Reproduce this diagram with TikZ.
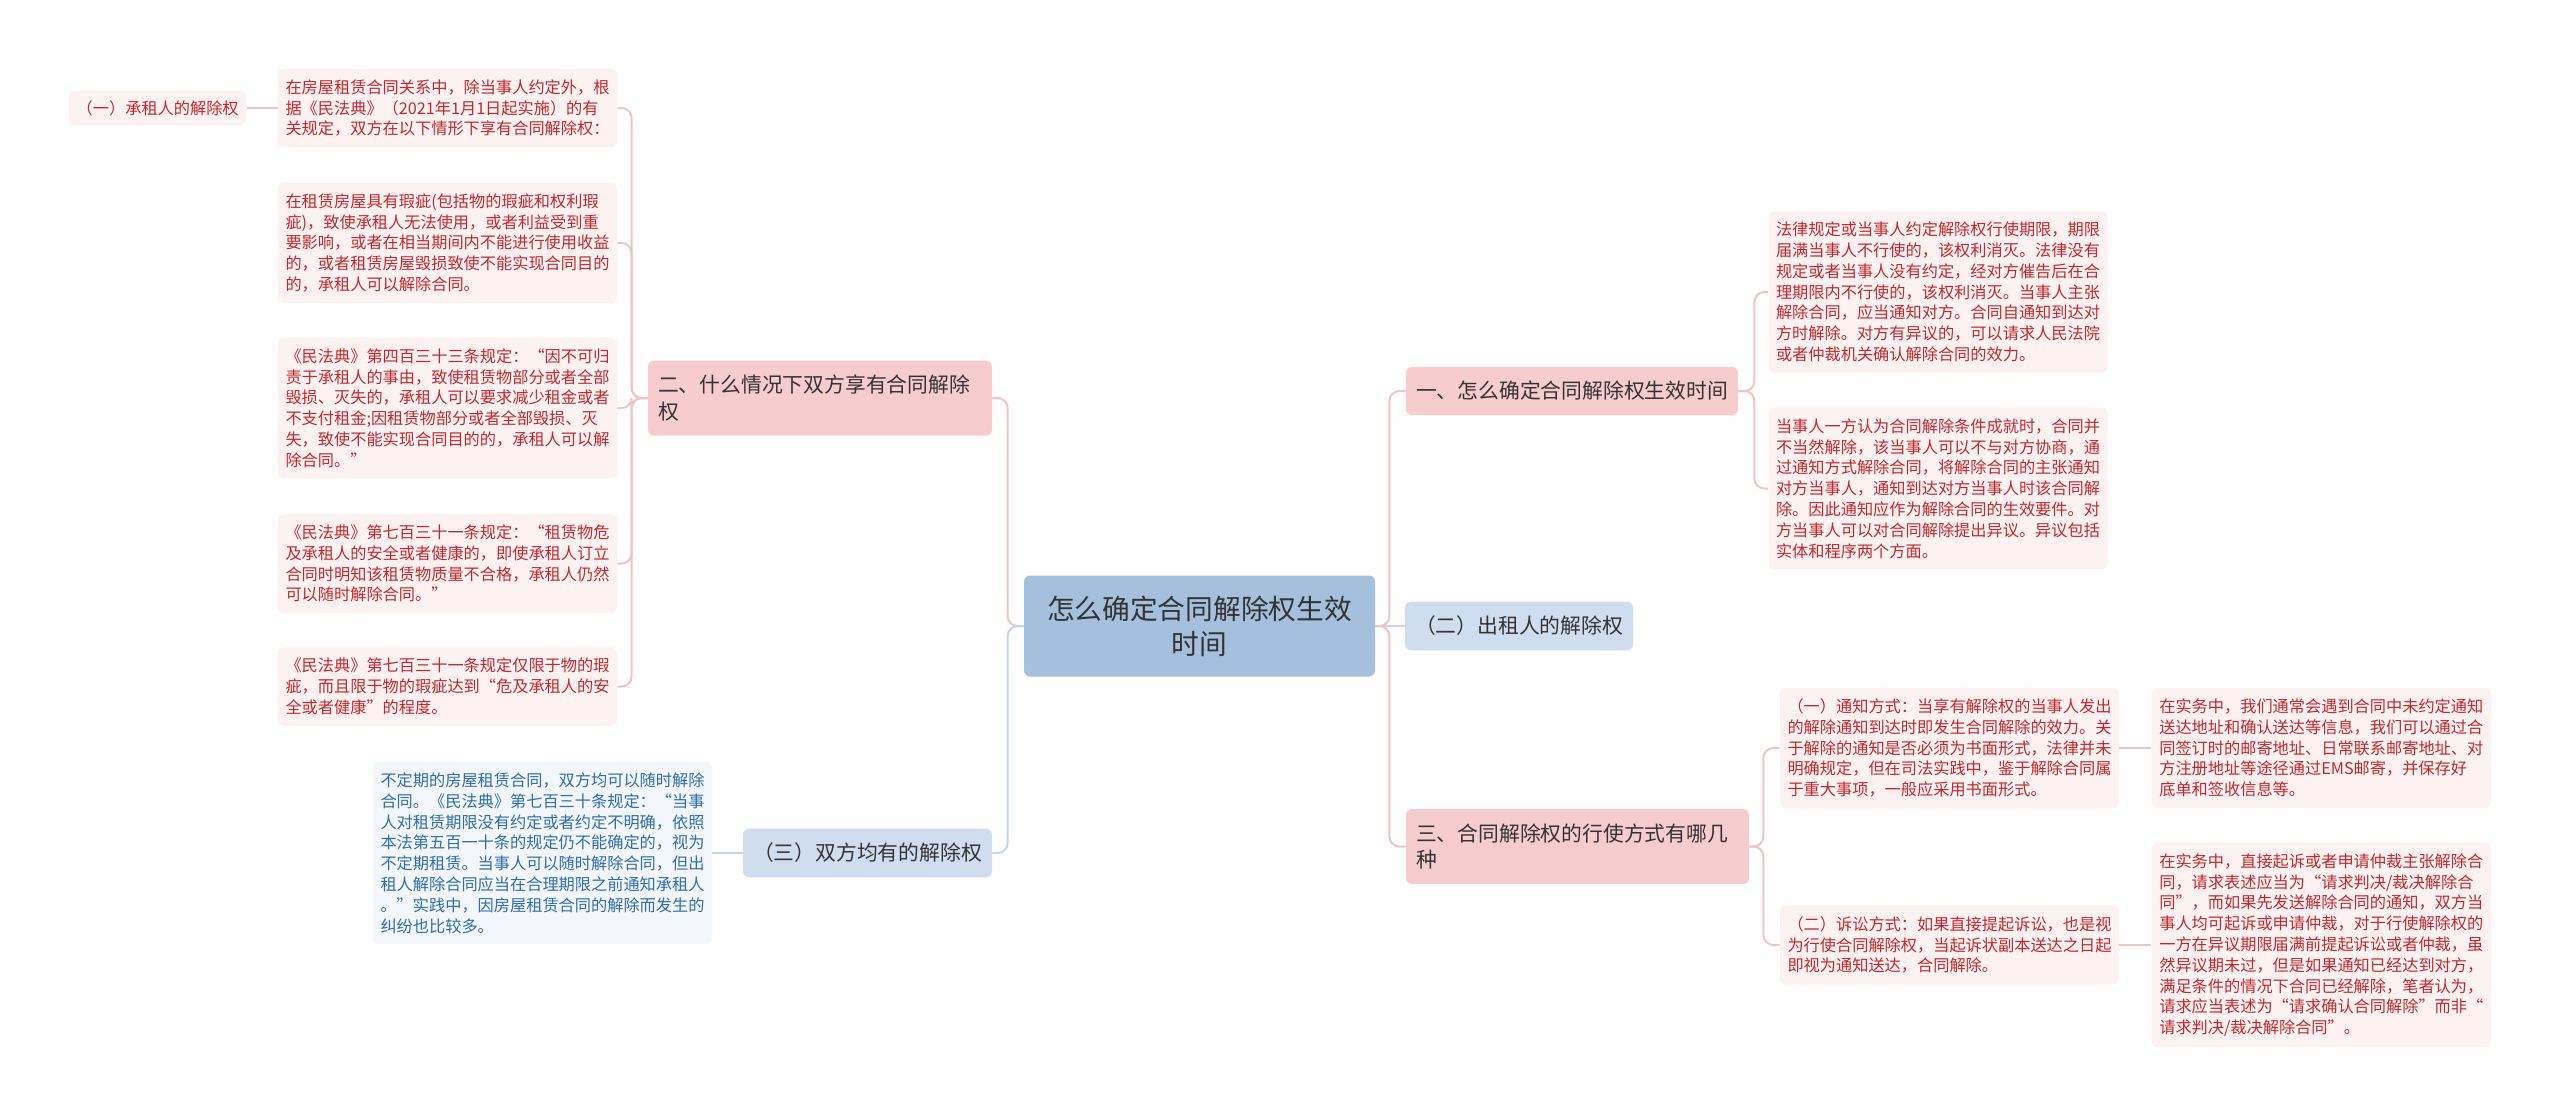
\documentclass[tikz,border=0pt]{standalone}
\usepackage{fontspec}
\setmainfont{Noto Sans CJK SC}
\usepackage{xcolor}
\usepackage{tikz}
\usetikzlibrary{positioning}
\definecolor{rootblue}{RGB}{164,192,220}
\definecolor{midblue}{RGB}{207,222,238}
\definecolor{midpink}{RGB}{246,204,204}
\definecolor{leafpink}{RGB}{253,242,242}
\definecolor{leafblue}{RGB}{243,247,252}
\definecolor{textred}{RGB}{192,40,45}
\definecolor{textblue}{RGB}{45,110,172}
\definecolor{textdark}{RGB}{51,51,51}
\definecolor{linkpink}{RGB}{240,196,196}
\definecolor{linkblue}{RGB}{196,214,234}
\newcommand{\leaffont}{\fontsize{8.1pt}{10.4pt}\selectfont}
\newcommand{\midfont}{\fontsize{10.4pt}{13.4pt}\selectfont}
\newcommand{\rootfont}{\fontsize{13.85pt}{17.5pt}\selectfont}

\begin{document}
\begin{tikzpicture}[
  x=0.5pt, y=-0.5pt,
  leaf/.style={rounded corners=3pt, inner xsep=3.75pt, inner ysep=5.4pt,
               font=\leaffont, align=left, text width=162pt},
  leafp/.style={leaf, fill=leafpink, text=textred},
  leafb/.style={leaf, fill=leafblue, text=textblue},
  topic/.style={rounded corners=3pt, inner xsep=5pt, inner ysep=7.2pt,
                minimum height=24pt, font=\midfont, text=textdark},
  topicp/.style={topic, fill=midpink},
  topicb/.style={topic, fill=midblue},
  linkp/.style={draw=linkpink, line width=1pt, rounded corners=5pt},
  linkb/.style={draw=linkblue, line width=1pt, rounded corners=5pt}
]
  \fill[white] (0,0) rectangle (2560,1116);
  \useasboundingbox (0,0) rectangle (2560,1116);

  \node[fill=rootblue, rounded corners=3pt, text=textdark, font=\rootfont,
        align=center, text width=160pt, inner xsep=7.75pt, inner ysep=9pt,
        minimum height=50.5pt] (root) at (1199.5,626)
    {怎么确定合同解除权生效\\时间};

  % left half
  \node[topicp, align=left, text width=162pt] (n2) at (820,398)
    {二、什么情况下双方享有合同解除\\权};
  \node[topicb, minimum width=124.5pt] (n3) at (867.5,853) {（三）双方均有的解除权};

  \node[leafp] (la) at (447.5,108)
    {在房屋租赁合同关系中，除当事人约定外，根\\据《民法典》（2021年1月1日起实施）的有\\关规定，双方在以下情形下享有合同解除权：};
  \node[leafp, text width={}, align=center, minimum width=88.5pt, inner ysep=4.8pt,
        left=15.5pt of la] (a0) {（一）承租人的解除权};
  \node[leafp] (lb) at (447.5,243)
    {在租赁房屋具有瑕疵(包括物的瑕疵和权利瑕\\疵)，致使承租人无法使用，或者利益受到重\\要影响，或者在相当期间内不能进行使用收益\\的，或者租赁房屋毁损致使不能实现合同目的\\的，承租人可以解除合同。};
  \node[leafp] (lc) at (447.5,408)
    {《民法典》第四百三十三条规定：“因不可归\\责于承租人的事由，致使租赁物部分或者全部\\毁损、灭失的，承租人可以要求减少租金或者\\不支付租金;因租赁物部分或者全部毁损、灭\\失，致使不能实现合同目的的，承租人可以解\\除合同。”};
  \node[leafp] (ld) at (447.5,563.5)
    {《民法典》第七百三十一条规定：“租赁物危\\及承租人的安全或者健康的，即使承租人订立\\合同时明知该租赁物质量不合格，承租人仍然\\可以随时解除合同。”};
  \node[leafp] (le) at (447.5,686.5)
    {《民法典》第七百三十一条规定仅限于物的瑕\\疵，而且限于物的瑕疵达到“危及承租人的安\\全或者健康”的程度。};
  \node[leafb] (lf) at (542.5,853)
    {不定期的房屋租赁合同，双方均可以随时解除\\合同。《民法典》第七百三十条规定：“当事\\人对租赁期限没有约定或者约定不明确，依照\\本法第五百一十条的规定仍不能确定的，视为\\不定期租赁。当事人可以随时解除合同，但出\\租人解除合同应当在合理期限之前通知承租人\\。”实践中，因房屋租赁合同的解除而发生的\\纠纷也比较多。};

  % right half
  \node[topicp, minimum width=166pt] (n1) at (1572,391) {一、怎么确定合同解除权生效时间};
  \node[topicb, minimum width=114pt] (nb) at (1519,626) {（二）出租人的解除权};
  \node[topicp, align=left, text width=161.5pt] (n3r) at (1577.5,846.5)
    {三、合同解除权的行使方式有哪几\\种};

  \node[leafp] (lg) at (1938,292)
    {法律规定或当事人约定解除权行使期限，期限\\届满当事人不行使的，该权利消灭。法律没有\\规定或者当事人没有约定，经对方催告后在合\\理期限内不行使的，该权利消灭。当事人主张\\解除合同，应当通知对方。合同自通知到达对\\方时解除。对方有异议的，可以请求人民法院\\或者仲裁机关确认解除合同的效力。};
  \node[leafp] (lh) at (1938,488.5)
    {当事人一方认为合同解除条件成就时，合同并\\不当然解除，该当事人可以不与对方协商，通\\过通知方式解除合同，将解除合同的主张通知\\对方当事人，通知到达对方当事人时该合同解\\除。因此通知应作为解除合同的生效要件。对\\方当事人可以对合同解除提出异议。异议包括\\实体和程序两个方面。};
  \node[leafp] (li) at (1949.5,748)
    {（一）通知方式：当享有解除权的当事人发出\\的解除通知到达时即发生合同解除的效力。关\\于解除的通知是否必须为书面形式，法律并未\\明确规定，但在司法实践中，鉴于解除合同属\\于重大事项，一般应采用书面形式。};
  \node[leafp] (lj) at (1949.5,945)
    {（二）诉讼方式：如果直接提起诉讼，也是视\\为行使合同解除权，当起诉状副本送达之日起\\即视为通知送达，合同解除。};
  \node[leafp, right=16pt of li] (lk)
    {在实务中，我们通常会遇到合同中未约定通知\\送达地址和确认送达等信息，我们可以通过合\\同签订时的邮寄地址、日常联系邮寄地址、对\\方注册地址等途径通过EMS邮寄，并保存好\\底单和签收信息等。};
  \node[leafp, right=16pt of lj] (ll)
    {在实务中，直接起诉或者申请仲裁主张解除合\\同，请求表述应当为“请求判决/裁决解除合\\同”，而如果先发送解除合同的通知，双方当\\事人均可起诉或申请仲裁，对于行使解除权的\\一方在异议期限届满前提起诉讼或者仲裁，虽\\然异议期未过，但是如果通知已经达到对方，\\满足条件的情况下合同已经解除，笔者认为，\\请求应当表述为“请求确认合同解除”而非“\\请求判决/裁决解除合同”。};

  % connectors
  \draw[linkp] (root.west) -- ++(-16,0) |- (n2.east);
  \draw[linkb] (root.west) -- ++(-16,0) |- (n3.east);
  \foreach \leafname in {la,lb,lc,ld,le}
    \draw[linkp] (n2.west) -- ++(-16,0) |- (\leafname.east);
  \draw[linkp] (la.west) -- (a0.east);
  \draw[linkb] (n3.west) -- (lf.east);

  \draw[linkb] (root.east) -- (nb.west);
  \draw[linkp] (root.east) -- ++(14,0) |- (n1.west);
  \draw[linkp] (root.east) -- ++(14,0) |- (n3r.west);
  \draw[linkp] (n1.east) -- ++(16,0) |- (lg.west);
  \draw[linkp] (n1.east) -- ++(16,0) |- (lh.west);
  \draw[linkp] (n3r.east) -- ++(14,0) |- (li.west);
  \draw[linkp] (n3r.east) -- ++(14,0) |- (lj.west);
  \draw[linkp] (li.east) -- (lk.west);
  \draw[linkp] (lj.east) -- (ll.west);
\end{tikzpicture}
\end{document}
